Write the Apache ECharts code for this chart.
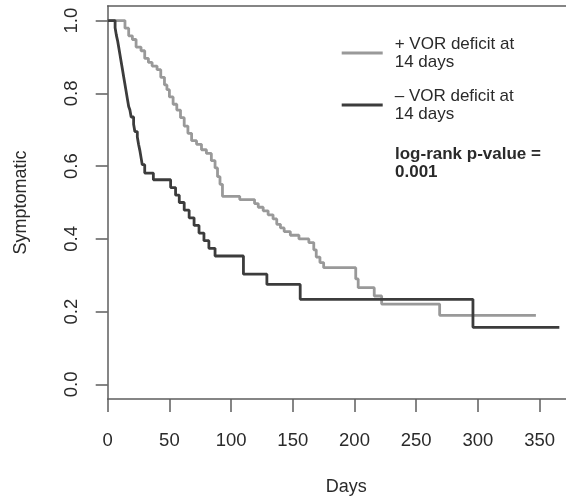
<!DOCTYPE html>
<html>
<head>
<meta charset="utf-8">
<script src="https://cdn.jsdelivr.net/npm/echarts@6/dist/echarts.min.js"></script>
<style>html,body{margin:0;padding:0;background:#fff}#c{width:566px;height:501px}</style>
</head>
<body>
<div id="c"></div>
<script>
// + VOR deficit at 14 days (grey)
var posDays = [0, 14, 17, 20, 23, 27, 30, 33, 36, 40, 43, 46, 48, 50, 53, 56, 59, 62, 65, 68, 72, 76, 80, 84, 87, 89, 91, 93, 107, 119, 122, 126, 130, 134, 137, 140, 143, 148, 155, 163, 167, 169, 172, 175, 201, 203, 216, 222, 269, 347];
var posSurv = [1, 0.979, 0.958, 0.948, 0.927, 0.917, 0.896, 0.885, 0.875, 0.865, 0.844, 0.823, 0.81, 0.79, 0.77, 0.754, 0.733, 0.71, 0.69, 0.67, 0.66, 0.645, 0.635, 0.615, 0.595, 0.571, 0.55, 0.517, 0.508, 0.497, 0.487, 0.477, 0.466, 0.455, 0.44, 0.43, 0.42, 0.41, 0.40, 0.39, 0.37, 0.35, 0.335, 0.321, 0.29, 0.266, 0.243, 0.221, 0.19, 0.19];
// - VOR deficit at 14 days (dark)
var negDays = [0, 6, 7, 8, 9, 10, 11, 12, 13, 14, 15, 16, 17, 18, 19, 21, 22, 24, 25, 26, 27, 28, 30, 37, 51, 55, 58, 62, 66, 70, 74, 78, 82, 87, 110, 129, 156, 296, 366];
var negSurv = [1, 0.98, 0.96, 0.945, 0.925, 0.905, 0.885, 0.865, 0.844, 0.824, 0.804, 0.784, 0.764, 0.754, 0.735, 0.715, 0.695, 0.68, 0.66, 0.644, 0.624, 0.604, 0.581, 0.5625, 0.541, 0.52, 0.50, 0.479, 0.458, 0.437, 0.416, 0.395, 0.374, 0.353, 0.303, 0.275, 0.234, 0.157, 0.157];

var xTicks = [0, 50, 100, 150, 200, 250, 300, 350];
var yTicks = [0, 0.2, 0.4, 0.6, 0.8, 1.0];
var posName = '+ VOR deficit at\n14 days';
var negName = '\u2013 VOR deficit at\n14 days';
var pText = 'log-rank p-value =\n0.001';

function zip(a, b) { return a.map(function (v, i) { return [v, b[i]]; }); }

var FONT = '"Liberation Sans", Arial, Helvetica, sans-serif';
var AX = '#5e5e5e';
var TXT = '#2a2a2a';
var chart = echarts.init(document.getElementById('c'), null, {renderer: 'canvas'});
chart.setOption({
  animation: false,
  backgroundColor: '#fff',
  textStyle: {fontFamily: FONT},
  grid: {left: 107.7, right: 0, top: 6, bottom: 101, show: false},
  legend: {
    left: 341.7, top: 29, orient: 'vertical', padding: 0, itemGap: 4,
    itemWidth: 41, itemHeight: 3, icon: 'rect',
    textStyle: {fontSize: 17, lineHeight: 18, color: TXT, fontFamily: FONT, padding: [12, 0, 0, 7]},
    data: [posName, negName]
  },
  xAxis: [{
    type: 'value', min: 0, max: 371.4, position: 'bottom',
    name: 'Days', nameLocation: 'middle', nameGap: 79,
    nameTextStyle: {fontSize: 18, color: TXT, fontFamily: FONT, padding: [0, 0, 0, 19]},
    axisLine: {show: true, onZero: false, lineStyle: {color: AX, width: 1.5}},
    axisTick: {show: true, length: 13, customValues: xTicks, lineStyle: {color: AX, width: 1.5}},
    axisLabel: {customValues: xTicks, fontSize: 18.5, color: TXT, margin: 32, fontFamily: FONT},
    splitLine: {show: false}
  }, {
    type: 'value', min: 0, max: 371.4, position: 'top',
    axisLine: {show: true, onZero: false, lineStyle: {color: AX, width: 1.5}},
    axisTick: {show: false}, axisLabel: {show: false}, splitLine: {show: false}
  }],
  yAxis: {
    type: 'value', min: -0.04, max: 1.04,
    name: 'Symptomatic', nameLocation: 'middle', nameGap: 78, nameRotate: 90,
    nameTextStyle: {fontSize: 18, color: TXT, fontFamily: FONT},
    axisLine: {show: true, onZero: false, lineStyle: {color: AX, width: 1.5}},
    axisTick: {show: true, length: 12, customValues: yTicks, lineStyle: {color: AX, width: 1.5}},
    axisLabel: {customValues: yTicks, rotate: 90, fontSize: 18.5, color: TXT, margin: 26, fontFamily: FONT,
      formatter: function (v) { return v.toFixed(1); }},
    splitLine: {show: false}
  },
  graphic: [{
    type: 'text', left: 395, top: 145,
    style: {text: pText, font: 'bold 17px ' + FONT, lineHeight: 18, fill: TXT}
  }],
  series: [
    {name: posName, type: 'line', step: 'end', symbol: 'none', data: zip(posDays, posSurv),
      lineStyle: {color: '#999999', width: 2.8}, itemStyle: {color: '#999999'}, z: 2},
    {name: negName, type: 'line', step: 'end', symbol: 'none', data: zip(negDays, negSurv),
      lineStyle: {color: '#3c3c3c', width: 2.8}, itemStyle: {color: '#3c3c3c'}, z: 3}
  ]
});
</script>
</body>
</html>
